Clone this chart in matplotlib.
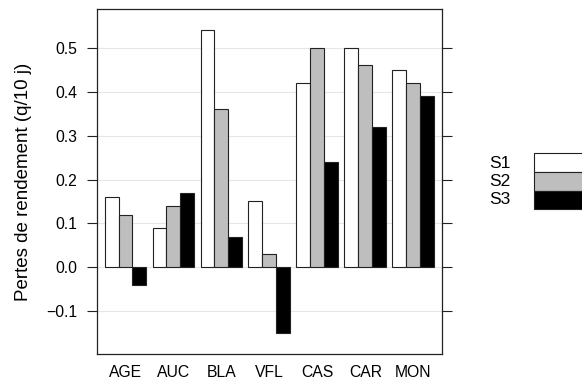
import numpy as np
import matplotlib
matplotlib.use('Agg')
import matplotlib.pyplot as plt
from matplotlib.patches import Rectangle

plt.rcParams['font.family'] = ['Liberation Sans', 'DejaVu Sans']

categories = ['AGE', 'AUC', 'BLA', 'VFL', 'CAS', 'CAR', 'MON']
series = ['S1', 'S2', 'S3']
s1 = [0.16, 0.09, 0.54, 0.15, 0.42, 0.50, 0.45]
s2 = [0.12, 0.14, 0.36, 0.03, 0.50, 0.46, 0.42]
s3 = [-0.04, 0.17, 0.07, -0.15, 0.24, 0.32, 0.39]
yticks = [-0.1, 0.0, 0.1, 0.2, 0.3, 0.4, 0.5]
colors = ['white', '#bebebe', 'black']

fig = plt.figure(figsize=(5.82, 3.79), dpi=100)
ax = fig.add_axes([96.7 / 582, 1 - 354 / 379, 345.3 / 582, 345 / 379])

x = np.arange(1, len(categories) + 1)
width = 0.29
for i, vals in enumerate([s1, s2, s3]):
    ax.bar(x + (i - 1) * width, vals, width=width, color=colors[i],
           edgecolor='#222222', linewidth=0.8, zorder=3)

for y in yticks:
    ax.axhline(y, color='#e6e6e6', linewidth=0.8, zorder=1)

ax.set_xlim(0.4, 7.6)
ax.set_ylim(-0.197, 0.588)
ax.set_xticks(x)
ax.set_xticklabels(categories, fontsize=11.3)
ax.set_yticks(yticks)
ax.set_yticklabels(['\u22120.1', '0.0', '0.1', '0.2', '0.3', '0.4', '0.5'], fontsize=11.3)
ax.tick_params(axis='x', length=0, pad=8)
ax.tick_params(axis='y', length=7, width=0.8, color='#222222', right=True, pad=7)
for sp in ax.spines.values():
    sp.set_color('#222222')
    sp.set_linewidth(0.9)
ax.set_ylabel('Pertes de rendement (q/10 j)', fontsize=13.5, labelpad=10)

# legend
top = 153.3
h = 18.7
for i, name in enumerate(series):
    y0 = top + i * h
    fig.patches.append(Rectangle((534 / 582, 1 - (y0 + h) / 379), 60 / 582, h / 379,
                                 transform=fig.transFigure, facecolor=colors[i],
                                 edgecolor='#222222', linewidth=0.8))
    fig.text(489 / 582, 1 - (164 + i * 17.7) / 379, name, fontsize=12.5,
             va='center', ha='left')

fig.savefig('out.png', dpi=100)
